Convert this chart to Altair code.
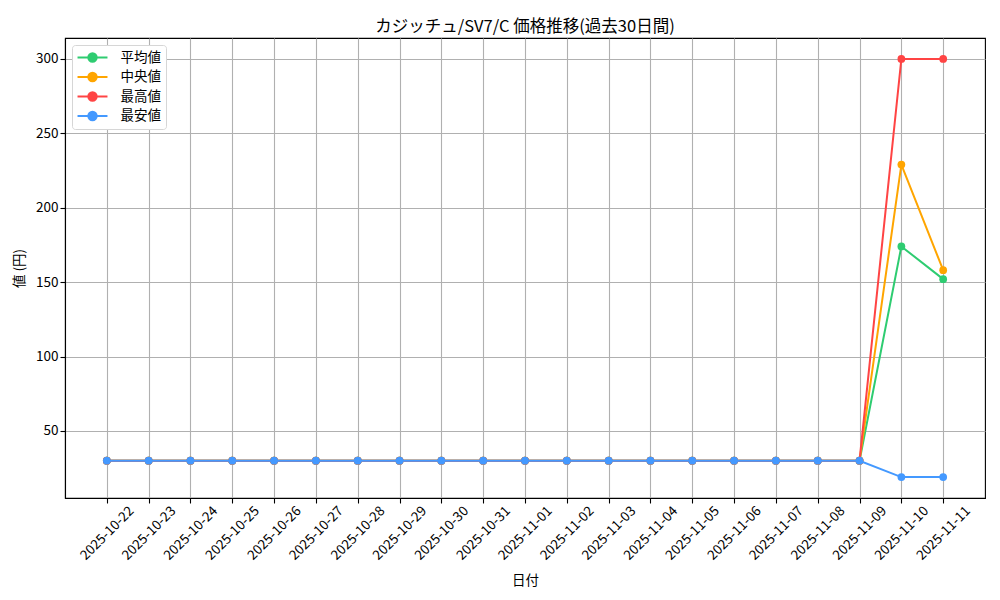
import altair as alt
import pandas as pd

dates = ["2025-10-22", "2025-10-23", "2025-10-24", "2025-10-25", "2025-10-26",
         "2025-10-27", "2025-10-28", "2025-10-29", "2025-10-30", "2025-10-31",
         "2025-11-01", "2025-11-02", "2025-11-03", "2025-11-04", "2025-11-05",
         "2025-11-06", "2025-11-07", "2025-11-08", "2025-11-09", "2025-11-10",
         "2025-11-11"]
avg_vals = [30, 30, 30, 30, 30, 30, 30, 30, 30, 30, 30, 30, 30, 30, 30, 30, 30, 30, 30, 174, 152]
median_vals = [30, 30, 30, 30, 30, 30, 30, 30, 30, 30, 30, 30, 30, 30, 30, 30, 30, 30, 30, 229, 158]
max_vals = [30, 30, 30, 30, 30, 30, 30, 30, 30, 30, 30, 30, 30, 30, 30, 30, 30, 30, 30, 300, 300]
min_vals = [30, 30, 30, 30, 30, 30, 30, 30, 30, 30, 30, 30, 30, 30, 30, 30, 30, 30, 30, 19, 19]

series_names = ["平均値", "中央値", "最高値", "最安値"]
series_values = [avg_vals, median_vals, max_vals, min_vals]
series_colors = ["#2ecc71", "#ffa500", "#ff4444", "#4499ff"]
y_ticks = [50, 100, 150, 200, 250, 300]

FONT = "Noto Sans CJK JP"

color_scale = alt.Scale(domain=series_names, range=series_colors)
x_enc = alt.X("日付:O", sort=dates,
              scale=alt.Scale(type="point", padding=1),
              axis=alt.Axis(title="日付", labelAngle=315, labelAlign="center",
                            labelBaseline="middle", labelPadding=30,
                            grid=True, titlePadding=11))
y_enc = alt.Y("値:Q", scale=alt.Scale(domain=[4.95, 314.05], nice=False, zero=False),
              axis=alt.Axis(title="値 (円)", values=y_ticks, grid=True, titlePadding=9))

legend = alt.Legend(
    title=None, orient="top-left", offset=7,
    symbolType="M -2.14 0 L 2.14 0 M 0.6 0 A 0.6 0.6 0 1 1 -0.6 0 A 0.6 0.6 0 1 1 0.6 0 Z",
    symbolSize=196, symbolStrokeWidth=2, symbolOffset=8, labelOffset=20, rowPadding=1.5,
    padding=4.5, cornerRadius=3, strokeColor="#d6d6d6", fillColor="white",
    labelFontSize=13.5, labelFont=FONT, labelColor="black", symbolOpacity=1,
)

layers = []
for i, (name, vals) in enumerate(zip(series_names, series_values)):
    df = pd.DataFrame({"日付": dates, "値": vals, "系列": name})
    color = alt.Color("系列:N", scale=color_scale, legend=legend)
    base = alt.Chart(df).encode(x=x_enc, y=y_enc, color=color)
    layers.append(base.mark_line(strokeWidth=2))
    layers.append(base.mark_point(filled=True, size=60, opacity=1))

chart = alt.layer(*layers).properties(
    width=920, height=460,
    title=alt.TitleParams("カジッチュ/SV7/C 価格推移(過去30日間)", font=FONT,
                          fontSize=16.5, fontWeight="normal", offset=3, color="black"),
    autosize=alt.AutoSizeParams(type="none"),
    padding={"left": 57, "top": 30, "right": 7, "bottom": 100},
).configure_axis(
    labelFont=FONT, titleFont=FONT, labelFontSize=13.5, titleFontSize=13.5,
    titleFontWeight="normal", labelColor="black", titleColor="black",
    domainColor="black", tickColor="black", tickSize=5, gridColor="#b0b0b0",
    gridWidth=1.1, domainWidth=1.1, tickWidth=1.1,
).configure_view(stroke="black", strokeWidth=1.1)

chart.save("out.html", embed_options={"renderer": "svg", "actions": False})
